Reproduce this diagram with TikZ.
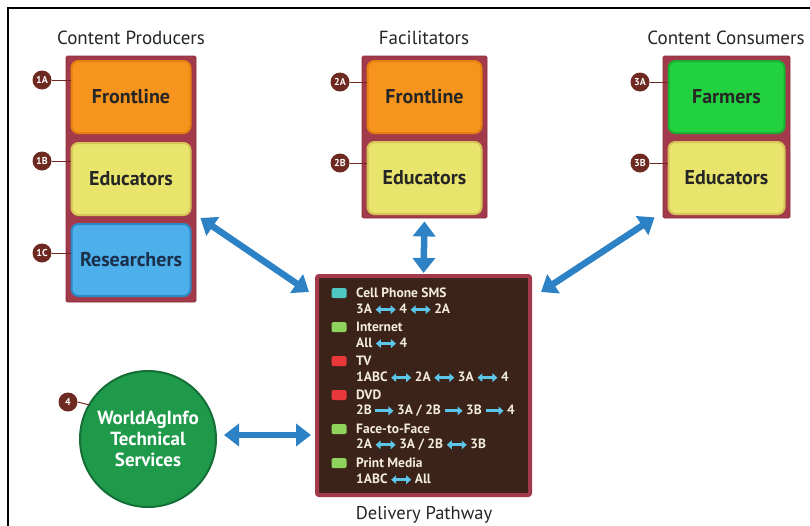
\documentclass[tikz,border=0pt]{standalone}
\usepackage{fontspec}
\setmainfont{PT Sans}
\usetikzlibrary{arrows.meta,calc}

\definecolor{colmaroon}{HTML}{A33A4C}
\definecolor{colmaroondk}{HTML}{8A2C3C}
\definecolor{orangefill}{HTML}{F7941D}
\definecolor{orangeline}{HTML}{E57F10}
\definecolor{yellowfill}{HTML}{E9E46C}
\definecolor{yellowline}{HTML}{D6C458}
\definecolor{bluefill}{HTML}{4DB0EA}
\definecolor{blueline}{HTML}{2E88C6}
\definecolor{greenfill}{HTML}{22D13F}
\definecolor{greenline}{HTML}{19B032}
\definecolor{circfill}{HTML}{1F9A4B}
\definecolor{circline}{HTML}{146E36}
\definecolor{badgefill}{HTML}{6E2A20}
\definecolor{pathfill}{HTML}{3B231A}
\definecolor{cream}{HTML}{F3ECDD}
\definecolor{bigblue}{HTML}{2C82C4}
\definecolor{legblue}{HTML}{5CC6EA}
\definecolor{icteal}{HTML}{4FC8C2}
\definecolor{icgreen}{HTML}{8ED45C}
\definecolor{icred}{HTML}{E8383A}
\definecolor{navytext}{HTML}{1B2E4A}

% small arrows used inside the pathway legend
\newcommand{\lr}{\tikz[baseline=-0.6ex]\draw[draw=legblue,line width=2.8pt,
  {Triangle[width=8.5pt,length=5pt]}-{Triangle[width=8.5pt,length=5pt]}] (0pt,0pt) -- (20pt,0pt);}
\newcommand{\rt}{\tikz[baseline=-0.6ex]\draw[draw=legblue,line width=2.8pt,
  -{Triangle[width=8.5pt,length=5pt]}] (0pt,0pt) -- (18pt,0pt);}

\begin{document}
\begin{tikzpicture}[x=1pt,y=-1pt,
  title/.style={font=\fontsize{19}{22}\selectfont,text=black!85},
  column/.style={fill=colmaroon,draw=colmaroondk,line width=0.8pt,rounded corners=1.5pt,minimum width=130pt,inner sep=0pt},
  rolebox/.style={rounded corners=7pt,line width=2pt,minimum width=119pt,minimum height=72pt,inner sep=0pt,
    font=\bfseries\fontsize{20}{23}\selectfont,text=black!85},
  badge/.style={circle,fill=badgefill,text=white,minimum size=19pt,inner sep=0pt,
    font=\bfseries\fontsize{10}{11}\selectfont},
  tick/.style={draw=badgefill,line width=1pt},
  bigarrow/.style={draw=bigblue,line width=6.5pt,
    {Triangle[width=22pt,length=15pt]}-{Triangle[width=22pt,length=15pt]}},
  icon/.style={rounded corners=1.5pt,minimum width=15pt,minimum height=10pt,inner sep=0pt},
  legtext/.style={anchor=west,text=cream,inner sep=0pt,font=\bfseries\fontsize{13.5}{15}\selectfont}]

\useasboundingbox (0,0) rectangle (810,525);
\clip (0,0) rectangle (810,525);
\fill[white] (0,0) rectangle (810,525);
\draw[line width=2pt,black] (8,8) rectangle (840,560);

% column titles
\node[title] (tprod) at (131,38) {Content Producers};
\node[title] (tfac)  at (424,38) {Facilitators};
\node[title] (tcons) at (726,38) {Content Consumers};

% content producers
\node[column,minimum height=246pt] (pcol) at (131,179) {};
\node[rolebox,fill=orangefill,draw=orangeline] (p1) at (131,97) {Frontline};
\node[rolebox,fill=yellowfill,draw=yellowline] (p2) at (131,179) {Educators};
\node[rolebox,fill=bluefill,draw=blueline,text=navytext] (p3) at (131,260) {Researchers};

% facilitators
\node[column,minimum width=125pt,minimum height=162pt] (fcol) at (424.5,137) {};
\node[rolebox,minimum width=114pt,fill=orangefill,draw=orangeline] (f1) at (424.5,97) {Frontline};
\node[rolebox,minimum width=114pt,fill=yellowfill,draw=yellowline] (f2) at (424.5,178) {Educators};

% content consumers
\node[column,minimum width=127pt,minimum height=162pt] (ccol) at (726.5,137) {};
\node[rolebox,minimum width=116pt,fill=greenfill,draw=greenline] (c1) at (726.5,97) {Farmers};
\node[rolebox,minimum width=116pt,fill=yellowfill,draw=yellowline] (c2) at (726.5,178) {Educators};

% delivery pathway
\node[fill=pathfill,draw=colmaroon,line width=4pt,rounded corners=2pt,
  minimum width=213pt,minimum height=219pt] (path) at (423.5,385.5) {};
\node[font=\fontsize{18.5}{21}\selectfont,text=black!85] (tpath) at (424,515) {Delivery Pathway};

% legend entries
\node[icon,fill=icteal] (i1) at (339,293) {};
\node[legtext] (l1a) at (356,293) {Cell Phone SMS};
\node[legtext] (l1b) at (356,309) {3A\,\lr\,4\,\lr\,2A};
\node[icon,fill=icgreen] (i2) at (339,327) {};
\node[legtext] (l2a) at (356,327) {Internet};
\node[legtext] (l2b) at (356,343) {All\,\lr\,4};
\node[icon,fill=icred] (i3) at (339,361) {};
\node[legtext] (l3a) at (356,361) {TV};
\node[legtext] (l3b) at (356,377) {1ABC\,\lr\,2A\,\lr\,3A\,\lr\,4};
\node[icon,fill=icred] (i4) at (339,395) {};
\node[legtext] (l4a) at (356,395) {DVD};
\node[legtext] (l4b) at (356,411) {2B\,\rt\,3A / 2B\,\rt\,3B\,\rt\,4};
\node[icon,fill=icgreen] (i5) at (339,429) {};
\node[legtext] (l5a) at (356,429) {Face-to-Face};
\node[legtext] (l5b) at (356,445) {2A\,\lr\,3A / 2B\,\lr\,3B};
\node[icon,fill=icgreen] (i6) at (339,463) {};
\node[legtext] (l6a) at (356,463) {Print Media};
\node[legtext] (l6b) at (356,479) {1ABC\,\lr\,All};

% technical services
\node[circle,fill=circfill,draw=circline,line width=2pt,minimum size=136pt,inner sep=0pt,
  align=center,text=white,font=\bfseries\fontsize{19}{21}\selectfont] (ws) at (148,439)
  {WorldAgInfo\\Technical\\Services};

% badges
\node[badge] (b1a) at (42,80) {1A};
\node[badge] (b1b) at (42,161) {1B};
\node[badge] (b1c) at (42,253) {1C};
\node[badge] (b2a) at (340,82) {2A};
\node[badge] (b2b) at (340,163) {2B};
\node[badge] (b3a) at (640,82) {3A};
\node[badge] (b3b) at (640,163) {3B};
\node[badge] (b4)  at (68,402) {4};
\draw[tick] (b1a.east) -- (b1a.east -| p1.west);
\draw[tick] (b1b.east) -- (b1b.east -| p2.west);
\draw[tick] (b1c.east) -- (b1c.east -| p3.west);
\draw[tick] (b2a.east) -- (b2a.east -| f1.west);
\draw[tick] (b2b.east) -- (b2b.east -| f2.west);
\draw[tick] (b3a.east) -- (b3a.east -| c1.west);
\draw[tick] (b3b.east) -- (b3b.east -| c2.west);
\draw[tick] (b4.east) -- ++(12,3);

% connectors to the delivery pathway
\coordinate (wsr) at ([shift={(7,-4)}]ws.east);
\coordinate (pathl) at ([xshift=-4pt]path.west |- wsr);
\draw[bigarrow] ([shift={(4,39)}]pcol.east) -- ([shift={(-6,18)}]path.north west);
\draw[bigarrow,shorten <=3pt,shorten >=3pt] (fcol.south) -- ([yshift=-2pt]path.north);
\draw[bigarrow] ([shift={(-8,-1)}]ccol.south west) -- ([shift={(9,18)}]path.north east);
\draw[bigarrow] (wsr) -- (pathl);
\end{tikzpicture}
\end{document}
